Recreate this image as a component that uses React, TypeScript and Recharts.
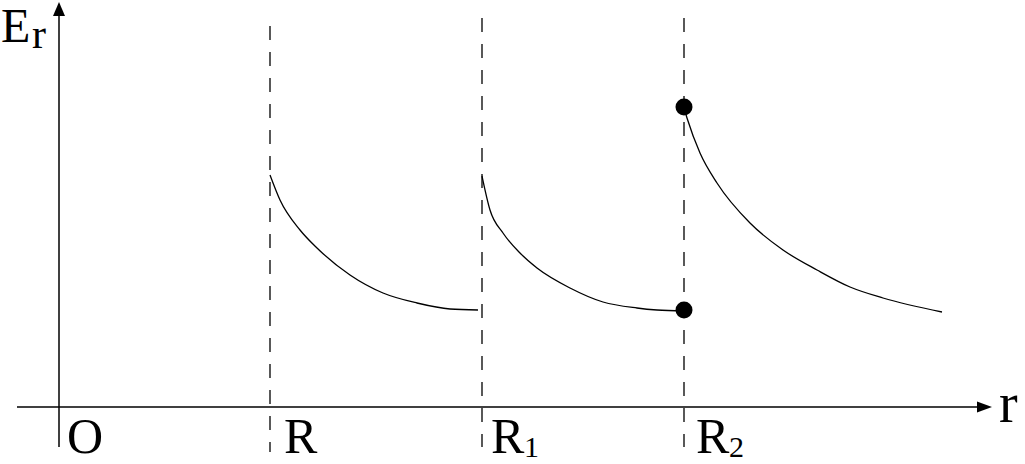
import React from "react";
import {
  ComposedChart,
  Line,
  XAxis,
  YAxis,
  ReferenceLine,
  ReferenceDot,
  Customized,
} from "recharts";

// Radial positions of the boundaries (units: origin O = 0)
const boundaryNames = ["R", "R1", "R2"];
const boundaryX = [2.11, 4.23, 6.25];
const boundaryTop = [3.81, 3.89, 3.89];
const boundaryBottom = [-0.45, -0.4, -0.4];

// Field curve segments (r, E_r)
const seg1X = [2.11, 2.21, 2.41, 2.58, 2.91, 3.24, 3.58, 3.91, 4.19];
const seg1Y = [2.32, 2.07, 1.77, 1.59, 1.32, 1.14, 1.04, 0.98, 0.97];
const seg2X = [4.23, 4.31, 4.44, 4.61, 4.78, 5.11, 5.44, 5.78, 5.98, 6.25];
const seg2Y = [2.31, 1.97, 1.74, 1.54, 1.39, 1.19, 1.05, 0.99, 0.97, 0.96];
const seg3X = [6.25, 6.28, 6.41, 6.58, 6.91, 7.24, 7.58, 7.91, 8.24, 8.83];
const seg3Y = [2.99, 2.89, 2.54, 2.24, 1.84, 1.57, 1.37, 1.2, 1.09, 0.95];

// Marked points at R2
const dotX = [6.25, 6.25];
const dotY = [3.0, 0.97];

// Axis extents
const xAxisStart = -0.42;
const xAxisEnd = 9.33;
const yAxisStart = -0.4;
const yAxisEnd = 4.05;

// Text labels
const yAxisLabel = { main: "E", sub: "r" };
const xAxisLabel = "r";
const originLabel = "O";
const tickLabels = [
  { main: "R", sub: "" },
  { main: "R", sub: "1" },
  { main: "R", sub: "2" },
];

const toRows = (xs: number[], ys: number[]) => xs.map((x, i) => ({ x, y: ys[i] }));
const seg1 = toRows(seg1X, seg1Y);
const seg2 = toRows(seg2X, seg2Y);
const seg3 = toRows(seg3X, seg3Y);

const FONT = "'Liberation Serif', 'Times New Roman', serif";

const ArrowX = (p: any) => {
  const { x1, y1, x2, y2 } = p;
  return (
    <g>
      <line x1={x1} y1={y1} x2={x2 - 12} y2={y2} stroke="#000" strokeWidth={1.5} />
      <polygon points={`${x2},${y2} ${x2 - 15},${y2 - 5.5} ${x2 - 15},${y2 + 5.5}`} fill="#000" />
    </g>
  );
};

const ArrowY = (p: any) => {
  const { x1, y1, x2, y2 } = p;
  return (
    <g>
      <line x1={x1} y1={y1} x2={x2} y2={y2 + 12} stroke="#000" strokeWidth={1.5} />
      <polygon points={`${x2},${y2} ${x2 - 6},${y2 + 14} ${x2 + 6},${y2 + 14}`} fill="#000" />
    </g>
  );
};

const Texts = () => {
  const tickPos = [
    { x: 284, y: 453 },
    { x: 491, y: 453 },
    { x: 696, y: 453 },
  ];
  return (
    <g fontFamily={FONT} fill="#000">
      <text x={1} y={42} fontSize={48}>
        {yAxisLabel.main}
      </text>
      <text x={32} y={48} fontSize={42}>
        {yAxisLabel.sub}
      </text>
      <text x={999} y={422} fontSize={56}>
        {xAxisLabel}
      </text>
      <text x={67} y={453} fontSize={50}>
        {originLabel}
      </text>
      {tickLabels.map((t, i) => (
        <g key={i}>
          <text x={tickPos[i].x} y={tickPos[i].y} fontSize={50}>
            {t.main}
          </text>
          {t.sub ? (
            <text x={tickPos[i].x + 33} y={tickPos[i].y + 4} fontSize={30}>
              {t.sub}
            </text>
          ) : null}
        </g>
      ))}
    </g>
  );
};

export default function App() {
  return (
    <div style={{ position: "absolute", left: 0, top: 0, width: 1025, height: 464, background: "#fff" }}>
      <ComposedChart width={1025} height={464} margin={{ top: 0, right: 0, bottom: 0, left: 0 }}>
        <XAxis type="number" dataKey="x" domain={[-0.59, 9.66]} allowDataOverflow hide />
        <YAxis type="number" dataKey="y" domain={[-0.57, 4.07]} allowDataOverflow hide />
        <ReferenceLine
          segment={[{ x: xAxisStart, y: 0 }, { x: xAxisEnd, y: 0 }]}
          shape={ArrowX}
          ifOverflow="visible"
        />
        <ReferenceLine
          segment={[{ x: 0, y: yAxisStart }, { x: 0, y: yAxisEnd }]}
          shape={ArrowY}
          ifOverflow="visible"
        />
        {boundaryNames.map((n, i) => (
          <ReferenceLine
            key={n}
            segment={[{ x: boundaryX[i], y: boundaryTop[i] }, { x: boundaryX[i], y: boundaryBottom[i] }]}
            stroke="#000"
            strokeWidth={1.3}
            strokeDasharray="14 12"
            ifOverflow="visible"
          />
        ))}
        <Line data={seg1} dataKey="y" type="monotone" stroke="#000" strokeWidth={1.3} dot={false} activeDot={false} isAnimationActive={false} />
        <Line data={seg2} dataKey="y" type="monotone" stroke="#000" strokeWidth={1.3} dot={false} activeDot={false} isAnimationActive={false} />
        <Line data={seg3} dataKey="y" type="monotone" stroke="#000" strokeWidth={1.3} dot={false} activeDot={false} isAnimationActive={false} />
        {dotX.map((x, i) => (
          <ReferenceDot key={i} x={x} y={dotY[i]} r={8.5} fill="#000" stroke="none" ifOverflow="visible" />
        ))}
        <Customized component={Texts} />
      </ComposedChart>
    </div>
  );
}
